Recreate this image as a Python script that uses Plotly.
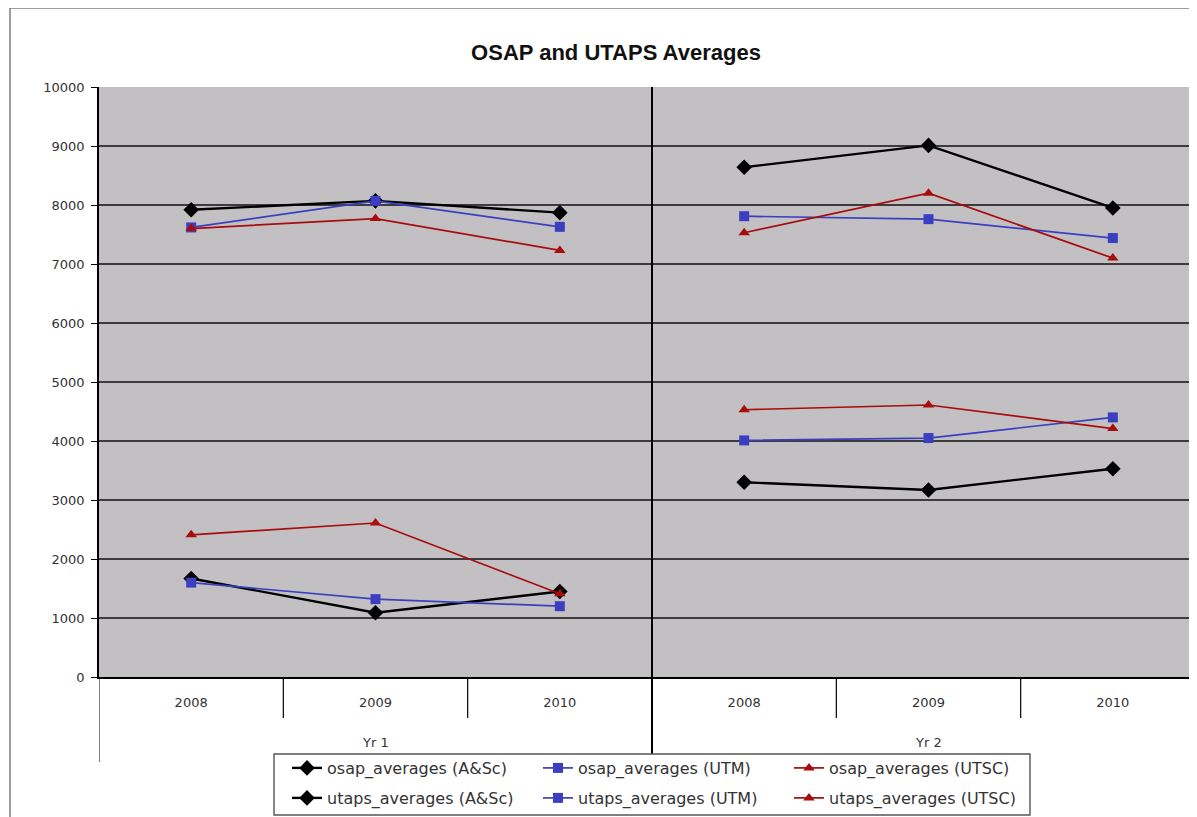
import plotly.graph_objects as go

years = ["2008", "2009", "2010"]
groups = ["Yr 1", "Yr 2"]

series_names = [
    "osap_averages (A&Sc)", "osap_averages (UTM)", "osap_averages (UTSC)",
    "utaps_averages (A&Sc)", "utaps_averages (UTM)", "utaps_averages (UTSC)",
]
# values per series: Yr 1 (2008, 2009, 2010) and Yr 2 (2008, 2009, 2010)
osap_ascc_yr1 = [7920, 8070, 7870]
osap_ascc_yr2 = [8640, 9010, 7950]
osap_utm_yr1 = [7620, 8070, 7630]
osap_utm_yr2 = [7810, 7760, 7440]
osap_utsc_yr1 = [7600, 7770, 7230]
osap_utsc_yr2 = [7530, 8200, 7100]
utaps_ascc_yr1 = [1670, 1090, 1450]
utaps_ascc_yr2 = [3300, 3170, 3530]
utaps_utm_yr1 = [1600, 1320, 1200]
utaps_utm_yr2 = [4010, 4050, 4400]
utaps_utsc_yr1 = [2410, 2610, 1410]
utaps_utsc_yr2 = [4530, 4610, 4210]

yticks = [0, 1000, 2000, 3000, 4000, 5000, 6000, 7000, 8000, 9000, 10000]

data = [
    (osap_ascc_yr1, osap_ascc_yr2),
    (osap_utm_yr1, osap_utm_yr2),
    (osap_utsc_yr1, osap_utsc_yr2),
    (utaps_ascc_yr1, utaps_ascc_yr2),
    (utaps_utm_yr1, utaps_utm_yr2),
    (utaps_utsc_yr1, utaps_utsc_yr2),
]

styles = [
    dict(color="#000000", symbol="diamond", size=12, width=2.4),
    dict(color="#3b3fbf", symbol="square", size=10, width=1.7),
    dict(color="#a80c0c", symbol="triangle-up", size=10, width=1.7),
    dict(color="#000000", symbol="diamond", size=12, width=2.4),
    dict(color="#3b3fbf", symbol="square", size=10, width=1.7),
    dict(color="#a80c0c", symbol="triangle-up", size=10, width=1.7),
]

categories = [f"{g} {y}" for g in groups for y in years]
cat_labels = [y for g in groups for y in years]

fig = go.Figure()
for i, (name, vals, st) in enumerate(zip(series_names, data, styles)):
    legend_id = "legend" if i < 3 else "legend2"
    for g, (grp, v) in enumerate(zip(groups, vals)):
        fig.add_trace(go.Scatter(
            x=[f"{grp} {y}" for y in years],
            y=v,
            mode="lines+markers",
            name=name,
            legendgroup=name,
            legend=legend_id,
            showlegend=(g == 0),
            line=dict(color=st["color"], width=st["width"]),
            marker=dict(color=st["color"], symbol=st["symbol"], size=st["size"],
                        line=dict(width=0)),
        ))

W, H = 1197, 817
OFF = 8  # page body offset
L, R, T, B = 91, 0, 79, 148
pw, ph = W - L - R, H - T - B


def px(xs):
    return (xs - OFF - L) / pw


def py(ys):
    return (H - B - (ys - OFF)) / ph


lbl_font = "DejaVu Sans, Verdana, sans-serif"

fig.update_layout(
    width=W, height=H,
    margin=dict(l=L, r=R, t=T, b=B),
    paper_bgcolor="white",
    plot_bgcolor="#c3c0c4",
    font=dict(family=lbl_font, color="#222222"),
    title=dict(text="<b>OSAP and UTAPS Averages</b>", x=(616 - OFF) / W, xanchor="center",
               y=1 - (52 - OFF) / H, yanchor="middle",
               font=dict(family="Liberation Sans, Arial, sans-serif", size=22, color="#111111")),
    xaxis=dict(
        type="category",
        categoryorder="array", categoryarray=categories,
        tickvals=categories, ticktext=cat_labels,
        range=[-0.5, 5.5],
        showgrid=False,
        ticks="",
        ticklabelstandoff=13,
        showline=True, linecolor="#000000", linewidth=1.5,
        tickfont=dict(size=13, color="#333333"),
    ),
    yaxis=dict(
        range=[0, 10000],
        tickvals=yticks,
        ticktext=[str(t) for t in yticks],
        showgrid=True, gridcolor="#3c3c3c", gridwidth=1.5,
        showline=True, linecolor="#000000", linewidth=1.5,
        ticks="outside", ticklen=6, tickcolor="#000000",
        ticklabelstandoff=4,
        tickfont=dict(size=13, color="#333333"),
        zeroline=False,
    ),
    legend=dict(orientation="h", x=px(287), xanchor="left", y=py(751), yanchor="top",
                entrywidth=206, font=dict(size=16, color="#333333"),
                bgcolor="rgba(0,0,0,0)", tracegroupgap=0, itemwidth=30),
    legend2=dict(orientation="h", x=px(287), xanchor="left", y=py(781), yanchor="top",
                 entrywidth=206, font=dict(size=16, color="#333333"),
                 bgcolor="rgba(0,0,0,0)", tracegroupgap=0, itemwidth=30),
    showlegend=True,
)

# group labels under the year labels
for gi, grp in enumerate(groups):
    fig.add_annotation(x=gi * 3 + 1, xref="x", y=py(742), yref="paper",
                       text=grp, showarrow=False, yanchor="middle",
                       font=dict(size=13, color="#333333", family=lbl_font))

shapes = []
# outer chart border
shapes.append(dict(type="rect", xref="paper", yref="paper",
                   x0=px(10), x1=px(1240), y0=py(860), y1=py(8),
                   line=dict(color="#7f7f7f", width=1.5), layer="below"))
# group divider through plot and labels
shapes.append(dict(type="line", xref="x", yref="paper", x0=2.5, x1=2.5,
                   y0=py(754), y1=1, line=dict(color="#000000", width=2)))
# left boundary extending below the axis
shapes.append(dict(type="line", xref="x", yref="paper", x0=-0.5, x1=-0.5,
                   y0=py(762), y1=0, line=dict(color="#000000", width=1)))
# category separators in label area
for xv in [0.5, 1.5, 3.5, 4.5]:
    shapes.append(dict(type="line", xref="x", yref="paper", x0=xv, x1=xv,
                       y0=py(718), y1=0, line=dict(color="#000000", width=1.2)))
# legend box
shapes.append(dict(type="rect", xref="paper", yref="paper",
                   x0=px(274), x1=px(1030), y0=py(815), y1=py(754),
                   line=dict(color="#555555", width=1.4), fillcolor="rgba(0,0,0,0)"))
fig.update_layout(shapes=shapes)

fig.write_html("out.html")
